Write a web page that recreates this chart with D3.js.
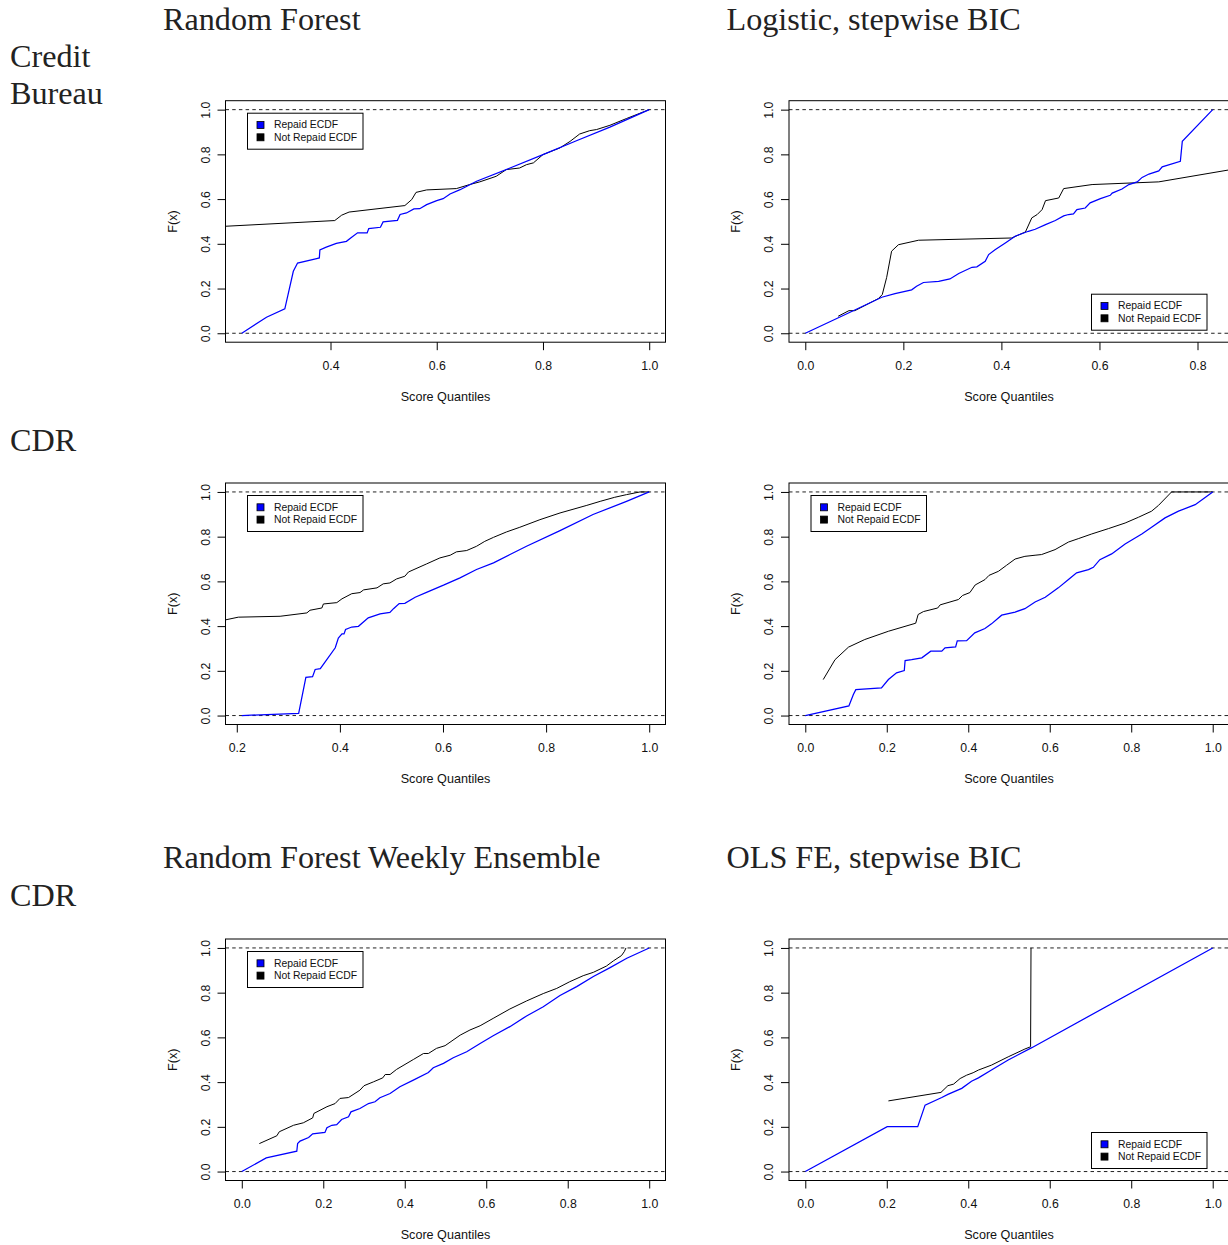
<!DOCTYPE html>
<html>
<head>
<meta charset="utf-8">
<script src="https://cdn.jsdelivr.net/npm/d3@7"></script>
<style>
  html, body { margin: 0; padding: 0; background: #fff; }
  svg { display: block; }
</style>
</head>
<body>
<svg id="chart" width="1228" height="1245"></svg>
<script>
// ---------------- DATA ----------------
const panelTitles = ["Random Forest", "Logistic, stepwise BIC", "", "", "Random Forest Weekly Ensemble", "OLS FE, stepwise BIC"];
const rowLabels = [["Credit", "Bureau"], ["CDR"], ["CDR"]];
const legendLabels = ["Repaid ECDF", "Not Repaid ECDF"];
const legendCorner = ["topleft", "bottomright", "topleft", "topleft", "topleft", "bottomright"];
const yTicks = [0, 0.2, 0.4, 0.6, 0.8, 1.0];
const xTicks1 = [0.4, 0.6, 0.8, 1.0];
const xTicks2 = [0.0, 0.2, 0.4, 0.6, 0.8];
const xTicks3 = [0.2, 0.4, 0.6, 0.8, 1.0];
const xTicksFull = [0.0, 0.2, 0.4, 0.6, 0.8, 1.0];
const xAxisLabel = "Score Quantiles";
const yAxisLabel = "F(x)";

// Panel 1: Credit Bureau, Random Forest
const p1Repaid = [[0.233,0],[0.2795,0.0715],[0.314,0.109],[0.33,0.277],[0.338,0.314],[0.374,0.334],[0.379,0.337],[0.38,0.373],[0.392,0.385],[0.411,0.402],[0.43,0.411],[0.438,0.426],[0.451,0.449],[0.469,0.449],[0.472,0.468],[0.494,0.474],[0.499,0.498],[0.526,0.505],[0.531,0.531],[0.543,0.538],[0.557,0.556],[0.568,0.557],[0.581,0.575],[0.60,0.593],[0.612,0.602],[0.625,0.623],[0.644,0.642],[0.675,0.68],[0.738,0.739],[0.80,0.799],[0.863,0.861],[0.926,0.922],[1.0,1.0]];
const p1NotRepaid = [[0.19,0.477],[0.408,0.504],[0.421,0.528],[0.435,0.542],[0.54,0.571],[0.553,0.598],[0.561,0.63],[0.581,0.641],[0.637,0.647],[0.662,0.665],[0.681,0.677],[0.706,0.697],[0.712,0.702],[0.731,0.732],[0.756,0.739],[0.769,0.754],[0.782,0.762],[0.80,0.799],[0.832,0.829],[0.851,0.858],[0.869,0.891],[0.888,0.906],[0.901,0.911],[0.926,0.93],[0.957,0.96],[1.0,1.0]];

// Panel 2: Credit Bureau, Logistic stepwise BIC
const p2Repaid = [[0,0],[0.074,0.076],[0.156,0.161],[0.183,0.177],[0.217,0.194],[0.227,0.21],[0.241,0.227],[0.272,0.232],[0.295,0.243],[0.313,0.267],[0.34,0.295],[0.35,0.297],[0.367,0.322],[0.374,0.352],[0.387,0.373],[0.408,0.404],[0.428,0.434],[0.455,0.456],[0.469,0.465],[0.49,0.486],[0.51,0.504],[0.527,0.525],[0.537,0.531],[0.547,0.534],[0.554,0.553],[0.571,0.56],[0.581,0.583],[0.602,0.602],[0.622,0.617],[0.626,0.627],[0.646,0.645],[0.66,0.665],[0.677,0.677],[0.687,0.697],[0.701,0.712],[0.721,0.726],[0.728,0.744],[0.765,0.769],[0.769,0.858],[0.831,1.0]];
const p2NotRepaid = [[0.067,0.076],[0.089,0.101],[0.101,0.101],[0.149,0.155],[0.157,0.173],[0.166,0.25],[0.176,0.367],[0.19,0.396],[0.231,0.416],[0.421,0.426],[0.449,0.453],[0.462,0.516],[0.473,0.531],[0.483,0.553],[0.49,0.593],[0.517,0.605],[0.527,0.647],[0.585,0.665],[0.721,0.677],[0.863,0.73],[0.9,0.737]];

// Panel 3: CDR, Random Forest
const p3Repaid = [[0.2097,0],[0.258,0.0045],[0.32,0.01],[0.334,0.171],[0.347,0.174],[0.352,0.206],[0.362,0.21],[0.391,0.303],[0.397,0.347],[0.404,0.365],[0.408,0.365],[0.411,0.385],[0.423,0.396],[0.436,0.399],[0.455,0.437],[0.478,0.455],[0.497,0.461],[0.504,0.478],[0.515,0.501],[0.526,0.502],[0.546,0.529],[0.568,0.551],[0.601,0.583],[0.633,0.616],[0.665,0.653],[0.698,0.683],[0.73,0.72],[0.762,0.757],[0.827,0.827],[0.891,0.899],[0.956,0.958],[1.0,1.0]];
const p3NotRepaid = [[0.17,0.424],[0.203,0.44],[0.284,0.444],[0.336,0.459],[0.342,0.471],[0.365,0.481],[0.368,0.499],[0.394,0.505],[0.404,0.522],[0.423,0.545],[0.439,0.55],[0.446,0.562],[0.472,0.571],[0.484,0.589],[0.497,0.593],[0.51,0.611],[0.526,0.623],[0.533,0.642],[0.568,0.678],[0.594,0.705],[0.614,0.717],[0.626,0.732],[0.646,0.738],[0.665,0.757],[0.681,0.779],[0.698,0.797],[0.723,0.821],[0.749,0.842],[0.788,0.876],[0.827,0.906],[0.879,0.94],[0.905,0.958],[0.933,0.976],[0.956,0.988],[0.982,1.0],[1.0,1.0]];

// Panel 4: CDR, Logistic stepwise BIC
const p4Repaid = [[0,0],[0.107,0.043],[0.118,0.094],[0.124,0.116],[0.187,0.124],[0.204,0.161],[0.224,0.191],[0.243,0.201],[0.245,0.246],[0.261,0.25],[0.286,0.258],[0.308,0.288],[0.335,0.288],[0.343,0.303],[0.369,0.307],[0.373,0.334],[0.396,0.335],[0.416,0.37],[0.441,0.389],[0.457,0.41],[0.482,0.449],[0.515,0.463],[0.539,0.478],[0.564,0.508],[0.589,0.529],[0.621,0.571],[0.646,0.608],[0.666,0.638],[0.695,0.653],[0.707,0.663],[0.723,0.697],[0.752,0.723],[0.785,0.767],[0.826,0.812],[0.85,0.842],[0.883,0.884],[0.916,0.914],[0.957,0.943],[1.0,1.0]];
const p4NotRepaid = [[0.044,0.161],[0.073,0.25],[0.106,0.306],[0.146,0.34],[0.204,0.377],[0.271,0.413],[0.277,0.452],[0.29,0.465],[0.325,0.481],[0.331,0.495],[0.376,0.519],[0.386,0.537],[0.404,0.55],[0.417,0.584],[0.441,0.608],[0.451,0.627],[0.474,0.645],[0.494,0.672],[0.515,0.7],[0.539,0.712],[0.564,0.717],[0.58,0.72],[0.613,0.742],[0.646,0.776],[0.67,0.791],[0.703,0.812],[0.744,0.836],[0.785,0.861],[0.818,0.887],[0.85,0.914],[0.867,0.94],[0.899,1.0],[1.0,1.0]];

// Panel 5: CDR, Random Forest Weekly Ensemble
const p5Repaid = [[0,0],[0.06,0.061],[0.135,0.091],[0.137,0.125],[0.143,0.136],[0.164,0.152],[0.174,0.169],[0.204,0.175],[0.209,0.196],[0.221,0.207],[0.233,0.21],[0.245,0.233],[0.262,0.245],[0.268,0.267],[0.29,0.282],[0.311,0.304],[0.327,0.312],[0.339,0.33],[0.364,0.349],[0.388,0.379],[0.421,0.409],[0.458,0.443],[0.47,0.464],[0.495,0.484],[0.519,0.509],[0.552,0.536],[0.585,0.573],[0.617,0.607],[0.658,0.648],[0.699,0.696],[0.74,0.737],[0.781,0.787],[0.822,0.827],[0.863,0.872],[0.904,0.912],[0.945,0.954],[1.0,1.0]];
const p5NotRepaid = [[0.043,0.125],[0.086,0.16],[0.092,0.178],[0.127,0.207],[0.151,0.218],[0.174,0.24],[0.177,0.26],[0.209,0.29],[0.229,0.304],[0.241,0.327],[0.262,0.331],[0.29,0.364],[0.3,0.384],[0.323,0.401],[0.346,0.419],[0.352,0.434],[0.364,0.434],[0.38,0.457],[0.421,0.501],[0.446,0.528],[0.458,0.528],[0.478,0.551],[0.499,0.563],[0.536,0.61],[0.56,0.633],[0.585,0.652],[0.617,0.685],[0.658,0.727],[0.699,0.763],[0.74,0.796],[0.773,0.819],[0.805,0.849],[0.838,0.876],[0.863,0.891],[0.895,0.919],[0.912,0.942],[0.932,0.966],[0.939,0.984],[0.943,1.0]];

// Panel 6: CDR, OLS FE stepwise BIC
const p6Repaid = [[0,0],[0.201,0.201],[0.276,0.201],[0.294,0.297],[0.335,0.331],[0.35,0.345],[0.384,0.372],[0.408,0.404],[0.425,0.419],[0.457,0.454],[0.498,0.499],[0.556,0.554],[1.0,1.0]];
const p6NotRepaid = [[0.204,0.316],[0.333,0.354],[0.35,0.384],[0.364,0.391],[0.38,0.416],[0.396,0.431],[0.412,0.442],[0.425,0.454],[0.457,0.476],[0.498,0.513],[0.539,0.548],[0.553,0.558],[0.554,1.0]];

const repaidSeries = [p1Repaid, p2Repaid, p3Repaid, p4Repaid, p5Repaid, p6Repaid];
const notRepaidSeries = [p1NotRepaid, p2NotRepaid, p3NotRepaid, p4NotRepaid, p5NotRepaid, p6NotRepaid];
const xTickSets = [xTicks1, xTicks2, xTicks3, xTicksFull, xTicksFull, xTicksFull];

// ---------------- LAYOUT ----------------
const colLeft = [225.5, 789];
const rowTop = [100.7, 483, 939];
const PW = 440, PH = 241.5;
const titleBaseline = [30, null, 868];
const rowLabelBaseline = [[67, 104], [451], [906]];
const serif = "'Liberation Serif', 'Times New Roman', Times, serif";
const sans = "'Liberation Sans', Arial, Helvetica, sans-serif";
const repaidColor = "#0000ff";
const notRepaidColor = "#000000";

const svg = d3.select("#chart");
const defs = svg.append("defs");

// Row labels
rowLabels.forEach((lines, r) => {
  lines.forEach((t, i) => {
    svg.append("text").attr("x", 10).attr("y", rowLabelBaseline[r][i])
      .attr("font-family", serif).attr("font-size", 32.2).attr("fill", "#222").text(t);
  });
});

const fmt = d3.format(".1f");

for (let p = 0; p < 6; p++) {
  const r = Math.floor(p / 2), c = p % 2;
  const left = colLeft[c], top = rowTop[r];

  // Title
  if (panelTitles[p] && titleBaseline[r] != null) {
    svg.append("text").attr("x", left - 62.5).attr("y", titleBaseline[r])
      .attr("font-family", serif).attr("font-size", 32.2).attr("fill", "#222").text(panelTitles[p]);
  }

  const rep = repaidSeries[p], nrep = notRepaidSeries[p];
  const ext = d3.extent(rep, d => d[0]);
  const pad = (ext[1] - ext[0]) * 0.04;
  const x = d3.scaleLinear().domain([ext[0] - pad, ext[1] + pad]).range([left, left + PW]);
  const y = d3.scaleLinear().domain([-0.04, 1.04]).range([top + PH, top]);

  const g = svg.append("g");
  const clipId = "clip" + p;
  defs.append("clipPath").attr("id", clipId).append("rect")
    .attr("x", left).attr("y", top).attr("width", PW).attr("height", PH);

  const plot = g.append("g").attr("clip-path", `url(#${clipId})`);
  // dashed reference lines
  [0, 1].forEach(v => {
    plot.append("line").attr("x1", left).attr("x2", left + PW)
      .attr("y1", y(v)).attr("y2", y(v))
      .attr("stroke", "#222").attr("stroke-width", 1).attr("stroke-dasharray", "3.5,3.2");
  });
  const line = d3.line().x(d => x(d[0])).y(d => y(d[1]));
  plot.append("path").datum(nrep).attr("d", line).attr("fill", "none")
    .attr("stroke", notRepaidColor).attr("stroke-width", 1);
  plot.append("path").datum(rep).attr("d", line).attr("fill", "none")
    .attr("stroke", repaidColor).attr("stroke-width", 1.25);

  // box
  g.append("rect").attr("x", left).attr("y", top).attr("width", PW).attr("height", PH)
    .attr("fill", "none").attr("stroke", "#000").attr("stroke-width", 1);

  // x axis
  const xAxis = d3.axisBottom(x).tickValues(xTickSets[p]).tickFormat(fmt).tickSize(8).tickPadding(11);
  const xa = g.append("g").attr("transform", `translate(0,${top + PH})`).call(xAxis);
  xa.select(".domain").remove();
  xa.selectAll("text").attr("font-family", sans).attr("font-size", 12.3).attr("fill", "#111");
  xa.selectAll("line").attr("stroke", "#000");

  // y axis
  const yAxis = d3.axisLeft(y).tickValues(yTicks).tickFormat(fmt).tickSize(8);
  const ya = g.append("g").attr("transform", `translate(${left},0)`).call(yAxis);
  ya.select(".domain").remove();
  ya.selectAll("line").attr("stroke", "#000");
  ya.selectAll("text")
    .attr("font-family", sans).attr("font-size", 12.3).attr("fill", "#111")
    .attr("x", null).attr("dy", null)
    .attr("text-anchor", "middle")
    .attr("transform", "translate(-20,0) rotate(-90)")
    .attr("dominant-baseline", "central");

  // axis labels
  g.append("text").attr("x", left + PW / 2).attr("y", top + PH + 58.5)
    .attr("text-anchor", "middle").attr("font-family", sans).attr("font-size", 12.6).attr("fill", "#111")
    .text(xAxisLabel);
  g.append("text")
    .attr("transform", `translate(${left - 53},${top + PH / 2}) rotate(-90)`)
    .attr("text-anchor", "middle").attr("dominant-baseline", "central")
    .attr("font-family", sans).attr("font-size", 12.6).attr("fill", "#111")
    .text(yAxisLabel);

  // legend
  const LW = 115.5, LH = 36;
  const lx = legendCorner[p] === "topleft" ? left + 22 : left + PW - 22 - LW;
  const ly = legendCorner[p] === "topleft" ? top + 12.5 : top + PH - 12 - LH;
  const lg = g.append("g").attr("transform", `translate(${lx},${ly})`);
  lg.append("rect").attr("width", LW).attr("height", LH).attr("fill", "#fff")
    .attr("stroke", "#000").attr("stroke-width", 1);
  [repaidColor, notRepaidColor].forEach((col, i) => {
    const cy = 11.8 + i * 12.3;
    lg.append("rect").attr("x", 9.5).attr("y", cy - 3.5).attr("width", 7).attr("height", 7)
      .attr("fill", col).attr("stroke", "#000").attr("stroke-width", 0.8);
    lg.append("text").attr("x", 26.5).attr("y", cy).attr("dominant-baseline", "central")
      .attr("font-family", sans).attr("font-size", 10.4).attr("fill", "#111")
      .text(legendLabels[i]);
  });
}
</script>
</body>
</html>
